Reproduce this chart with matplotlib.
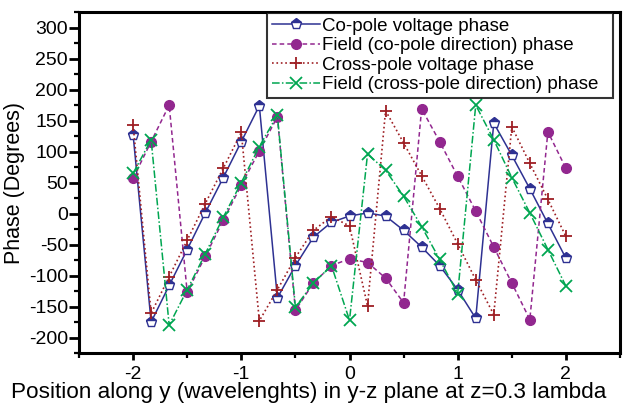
import numpy as np
import matplotlib
matplotlib.use("Agg")
import matplotlib.pyplot as plt
from matplotlib.ticker import MultipleLocator

plt.rcParams['font.family'] = ['Liberation Sans', 'DejaVu Sans']
plt.rcParams['axes.unicode_minus'] = False

# Sample positions along y (wavelengths), 1/6 step
position = np.linspace(-2, 2, 25)

# Phase values (degrees)
co_pole_voltage = [127, -175, -116, -58, 1, 58, 116, 174, -136, -84, -38, -14, -4,
                   1, -4, -27, -54, -84, -123, -169, 146, 94, 40, -16, -72]
field_co_pole = [57, 116, 175, -127, -69, -11, 46, 101, 156, -156, -112, -84, -73,
                 -79, -104, -144, 169, 116, 60, 4, -54, -112, -171, 132, 73]
cross_pole_voltage = [143, -161, -102, -43, 16, 73, 131, -173, -123, -71, -27, -5, -20,
                      -149, 166, 114, 61, 8, -49, -107, -163, 140, 81, 23, -37]
field_cross_pole = [65, 119, -180, -123, -65, -6, 50, 108, 159, -151, -112, -84, -172,
                    96, 70, 28, -21, -74, -129, 175, 119, 58, 1, -58, -117]

labels = ["Co-pole voltage phase", "Field (co-pole direction) phase",
          "Cross-pole voltage phase", "Field (cross-pole direction) phase"]

fig = plt.figure(figsize=(6.25, 4.04), dpi=100)
ax = fig.add_axes([0.1264, 0.1262, 0.8656, 0.8438])

ax.plot(position, co_pole_voltage, '-', color='#2e3192', lw=1.1,
        marker='p', ms=8, mfc='#2e3192', mec='#2e3192', fillstyle='top',
        markerfacecoloralt='white', label=labels[0])
ax.plot(position, field_co_pole, '--', color='#92278f', lw=1.1, dashes=(3, 2),
        marker='o', ms=7, mfc='#92278f', mec='#92278f', label=labels[1])
ax.plot(position, cross_pole_voltage, ':', color='#9e1f24', lw=1.2,
        marker='+', ms=9, mew=1.3, label=labels[2])
ax.plot(position, field_cross_pole, '-.', color='#00a651', lw=1.1,
        dashes=(5, 1.5, 1, 1.5), marker='x', ms=8, mew=1.3, label=labels[3])

ax.set_xlim(-2.5, 2.5)
ax.set_ylim(-225, 325)
ax.xaxis.set_major_locator(MultipleLocator(1))
ax.xaxis.set_minor_locator(MultipleLocator(0.5))
ax.yaxis.set_major_locator(MultipleLocator(50))
ax.yaxis.set_minor_locator(MultipleLocator(25))
ax.set_yticks(np.arange(-200, 301, 50))

for s in ax.spines.values():
    s.set_linewidth(2.2)
ax.tick_params(which='major', direction='out', width=2, labelsize=14, colors='black')
ax.tick_params(axis='x', which='major', length=5, pad=4)
ax.tick_params(axis='y', which='major', length=7, pad=1)
ax.tick_params(which='minor', direction='out', length=3.5, width=1.6)

ax.set_xlabel("Position along y (wavelenghts) in y-z plane at z=0.3 lambda",
              fontsize=16.2, labelpad=0)
ax.xaxis.set_label_coords(0.425, -0.084)
ax.set_ylabel("Phase (Degrees)", fontsize=15.5, labelpad=3)

# legend box spans a fixed region in the upper right of the axes
leg = ax.legend(loc='upper left', bbox_to_anchor=(0.3475, 0.5, 0.6396, 0.497),
                mode='expand', fontsize=13.5, frameon=True, fancybox=False,
                handlelength=2.6, handletextpad=0.1, labelspacing=0.12,
                borderpad=0.25, borderaxespad=0)
leg.get_frame().set_edgecolor('black')
leg.get_frame().set_linewidth(1.5)

fig.savefig('out.png', dpi=100)
